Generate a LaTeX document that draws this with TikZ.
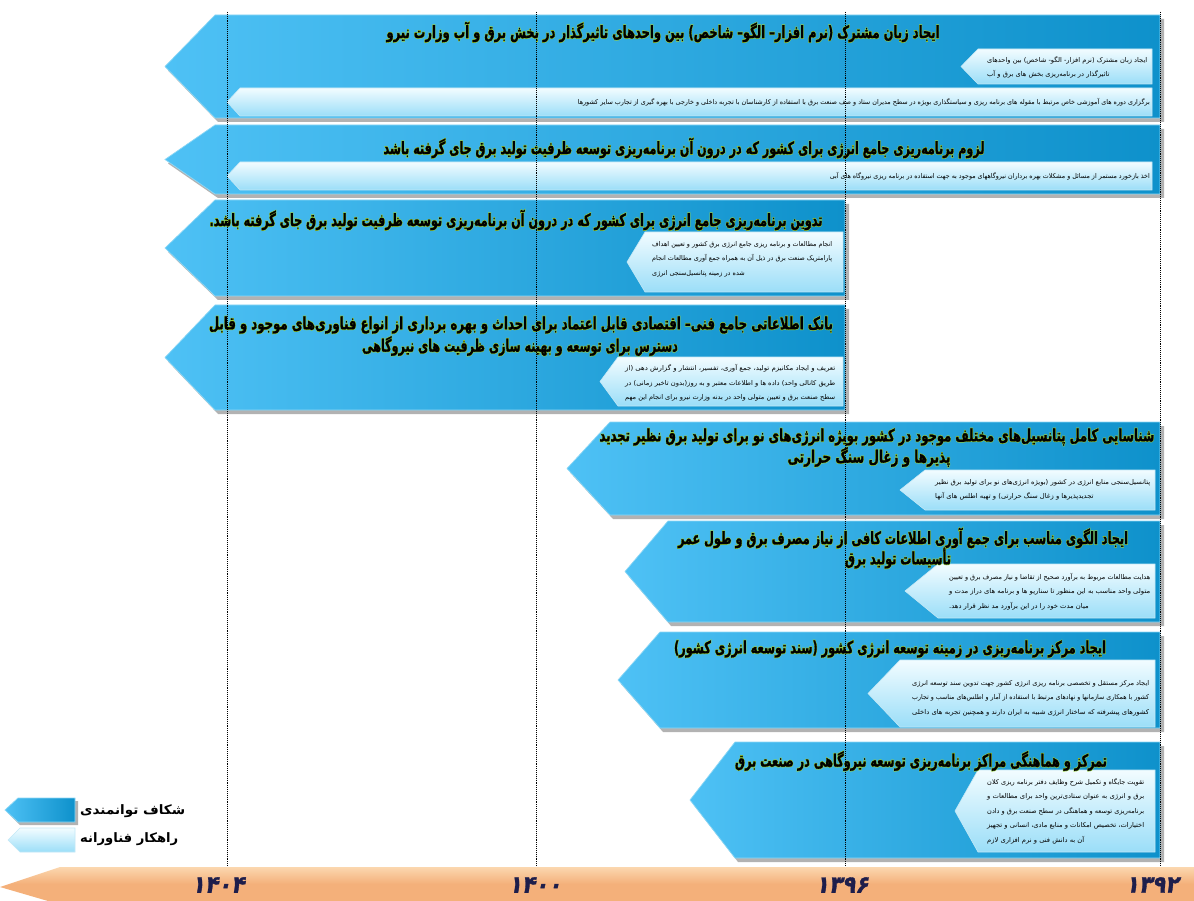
\documentclass[tikz,border=0pt]{standalone}
\usepackage{fontspec}
\usepackage{graphicx}
\newfontfamily\fa[Script=Arabic]{DejaVu Sans}
\newfontfamily\fatitle[Script=Arabic,FakeBold=1.2]{DejaVu Sans Bold}
\newfontfamily\faglow[Script=Arabic,FakeBold=9]{DejaVu Sans Bold}
\newfontfamily\fanum[Script=Arabic,FakeSlant=0.22,FakeBold=1.5]{DejaVu Sans Bold}
\TeXXeTstate=1
\definecolor{bandL}{RGB}{78,193,245}
\definecolor{bandR}{RGB}{14,145,203}
\definecolor{bandE}{RGB}{140,215,245}
\definecolor{subT}{RGB}{242,252,255}
\definecolor{subB}{RGB}{155,222,248}
\definecolor{subE}{RGB}{195,232,246}
\definecolor{axisO}{RGB}{244,176,122}
\definecolor{axisL}{RGB}{251,215,175}
\definecolor{numc}{RGB}{30,30,75}
\definecolor{glow}{RGB}{150,205,60}
\newlength\fitlen
% a right-to-left line stretched to a given width
\newcommand\fw[2]{\settowidth\fitlen{#2}\pgfmathsetmacro\fitratio{#1/\fitlen}\global\let\lastratio\fitratio\scalebox{\fitratio}[1]{#2}}
% a line using the stretch of the previous one
\newcommand\fs[1]{\scalebox{\lastratio}[1]{#1}}
% a title line with a green halo, stretched to a given width
\newcommand\ft[2]{\settowidth\fitlen{#2}\pgfmathsetmacro\fitratio{#1/\fitlen}\scalebox{\fitratio}[1]{\rlap{\faglow\color{glow}#2}#2}}
% arrow banner: tip x, corner x, right x, top y, bottom y
\newcommand\bannershape[5]{%
  \fill[bshadow] ({#2+3},{#4+4}) -- ({#3+4},{#4+4}) -- ({#3+4},{#5+4}) -- ({#2+3},{#5+4}) -- ({#1+3},{(#4+#5)/2+4}) -- cycle;
  \path[banner] (#2,#4) -- (#3,#4) -- (#3,#5) -- (#2,#5) -- (#1,{(#4+#5)/2}) -- cycle;}
\newcommand\subshape[5]{%
  \path[subbox] (#2,#4) -- (#3,#4) -- (#3,#5) -- (#2,#5) -- (#1,{(#4+#5)/2}) -- cycle;}
\tikzset{
  banner/.style={left color=bandL, right color=bandR, draw=bandE, line width=0.7pt},
  bshadow/.style={fill=black!60, opacity=0.5},
  subbox/.style={top color=subT, bottom color=subB, draw=subE, line width=0.6pt},
  grid/.style={densely dotted, line width=0.9pt, black},
  title/.style={font=\fatitle\fontsize{17}{20}\selectfont, inner sep=0pt},
  subtext/.style={font=\fa\fontsize{6.6}{14.5}\selectfont, align=left, inner sep=0pt, anchor=west},
  legendtext/.style={font=\fa\bfseries\fontsize{13}{15}\selectfont, inner sep=0pt, anchor=west},
  yearlabel/.style={font=\fanum\fontsize{24}{26}\selectfont, text=numc, inner sep=0pt}
}
\begin{document}
\begin{tikzpicture}[x=1pt,y=-1pt]
\useasboundingbox (0,0) rectangle (1194,901);
\fill[white] (0,0) rectangle (1194,901);

% row 1
\bannershape{165}{215}{1160}{15}{118}
\subshape{961}{978}{1152}{49}{84}
\subshape{227}{240}{1152}{88}{116}
% row 2
\bannershape{165}{215}{1160}{125}{194}
\subshape{227}{240}{1152}{162}{190}
% row 3
\bannershape{165}{215}{845}{200}{296}
\subshape{627}{645}{843}{232}{292}
% row 4
\bannershape{165}{215}{845}{305}{410}
\subshape{600}{618}{843}{357}{406}
% row 5
\bannershape{567}{610}{1160}{422}{515}
\subshape{900}{925}{1155}{470}{510}
% row 6
\bannershape{625}{668}{1160}{521}{622}
\subshape{905}{938}{1155}{564}{618}
% row 7
\bannershape{618}{660}{1160}{632}{728}
\subshape{868}{900}{1155}{660}{727}
% row 8
\bannershape{690}{735}{1160}{742}{858}
\subshape{955}{978}{1155}{770}{852}

% titles
\node[title] (t1) at (663,32) {\ft{553}{\beginR ایجاد زبان مشترک (نرم افزار– الگو– شاخص) بین واحدهای تاثیرگذار در بخش برق و آب وزارت نیرو\endR}};
\node[title] (t2) at (684,148) {\ft{601}{\beginR لزوم برنامه‌ریزی جامع انرژی برای کشور که در درون آن برنامه‌ریزی توسعه ظرفیت تولید برق جای گرفته باشد\endR}};
\node[title] (t3) at (516,220) {\ft{613}{\beginR تدوین برنامه‌ریزی جامع انرژی برای کشور که در درون آن برنامه‌ریزی توسعه ظرفیت تولید برق جای گرفته باشد.\endR}};
\node[title] (t4a) at (521,325) {\ft{624}{\beginR بانک اطلاعاتی جامع فنی– اقتصادی قابل اعتماد برای احداث و بهره برداری از انواع فناوری‌های موجود و قابل\endR}};
\node[title] (t4b) at (520,346) {\ft{316}{\beginR دسترس برای توسعه و بهینه سازی ظرفیت های نیروگاهی\endR}};
\node[title] (t5a) at (877,437) {\ft{555}{\beginR شناسایی کامل پتانسیل‌های مختلف موجود در کشور بویژه انرژی‌های نو برای تولید برق نظیر تجدید\endR}};
\node[title] (t5b) at (869,457) {\ft{163}{\beginR پذیرها و زغال سنگ حرارتی\endR}};
\node[title] (t6a) at (903,538) {\ft{450}{\beginR ایجاد الگوی مناسب برای جمع آوری اطلاعات کافی از نیاز مصرف برق و طول عمر\endR}};
\node[title] (t6b) at (898,558) {\ft{106}{\beginR تأسیسات تولید برق\endR}};
\node[title] (t7) at (890,649) {\ft{432}{\beginR ایجاد مرکز برنامه‌ریزی در زمینه توسعه انرژی کشور (سند توسعه انرژی کشور)\endR}};
\node[title] (t8) at (921,761) {\ft{372}{\beginR تمرکز و هماهنگی مراکز برنامه‌ریزی توسعه نیروگاهی در صنعت برق\endR}};

% sub-box texts
\node[subtext] (s1a) at (987,67.5) {\fw{160}{\beginR ایجاد زبان مشترک (نرم افزار- الگو- شاخص) بین واحدهای\endR}\\\fs{\beginR تاثیرگذار در برنامه‌ریزی بخش های برق و آب\endR}};
\node[subtext,anchor=east] (s1b) at (1150,102) {\fw{572}{\beginR برگزاری دوره های آموزشی خاص مرتبط با مقوله های برنامه ریزی و سیاستگذاری بویژه در سطح مدیران ستاد و صف صنعت برق با استفاده از کارشناسان با تجربه داخلی و خارجی با بهره گیری از تجارب سایر کشورها\endR}};
\node[subtext,anchor=east] (s2) at (1150,176) {\fw{320}{\beginR اخذ بازخورد مستمر از مسائل و مشکلات بهره برداران نیروگاههای موجود به جهت استفاده در برنامه ریزی نیروگاه های آبی\endR}};
\node[subtext] (s3) at (652,259) {\fw{180}{\beginR انجام مطالعات و برنامه ریزی جامع انرژی برق کشور و تعیین اهداف\endR}\\\fw{180}{\beginR پارامتریک صنعت برق در ذیل آن به همراه جمع آوری مطالعات انجام\endR}\\\fs{\beginR شده در زمینه پتانسیل‌سنجی انرژی\endR}};
\node[subtext] (s4) at (625,383) {\fw{210}{\beginR تعریف و ایجاد مکانیزم تولید، جمع آوری، تفسیر، انتشار و گزارش دهی (از\endR}\\\fw{210}{\beginR طریق کانالی واحد) داده ها و اطلاعات معتبر و به روز(بدون تاخیر زمانی) در\endR}\\\fw{210}{\beginR سطح صنعت برق و تعیین متولی واحد در بدنه وزارت نیرو برای انجام این مهم\endR}};
\node[subtext] (s5) at (935,490) {\fw{215}{\beginR پتانسیل‌سنجی منابع انرژی در کشور (بویژه انرژی‌های نو برای تولید برق نظیر\endR}\\\fs{\beginR تجدیدپذیرها و زغال سنگ حرارتی) و تهیه اطلس های آنها\endR}};
\node[subtext] (s6) at (949,591.5) {\fw{201}{\beginR هدایت مطالعات مربوط به برآورد صحیح از تقاضا و نیاز مصرف برق و تعیین\endR}\\\fw{201}{\beginR متولی واحد مناسب به این منظور تا سناریو ها و برنامه های دراز مدت و\endR}\\\fs{\beginR میان مدت خود را در این برآورد مد نظر قرار دهد.\endR}};
\node[subtext] (s7) at (912,698) {\fw{237}{\beginR ایجاد مرکز مستقل و تخصصی برنامه ریزی انرژی کشور جهت تدوین سند توسعه انرژی\endR}\\\fw{237}{\beginR کشور با همکاری سازمانها و نهادهای مرتبط با استفاده از آمار و اطلس‌های مناسب و تجارب\endR}\\\fw{237}{\beginR کشورهای پیشرفته که ساختار انرژی شبیه به ایران دارند و همچنین تجربه های داخلی\endR}};
\node[subtext] (s8) at (987,811) {\fw{157}{\beginR تقویت جایگاه و تکمیل شرح وظایف دفتر برنامه ریزی کلان\endR}\\\fw{157}{\beginR برق و انرژی به عنوان ستادی‌ترین واحد برای مطالعات و\endR}\\\fw{157}{\beginR برنامه‌ریزی توسعه و هماهنگی در سطح صنعت برق و دادن\endR}\\\fw{157}{\beginR اختیارات، تخصیص امکانات و منابع مادی، انسانی و تجهیز\endR}\\\fs{\beginR آن به دانش فنی و نرم افزاری لازم\endR}};

% legend
\fill[bshadow] (20,801) -- (78,801) -- (78,825) -- (20,825) -- (8,813) -- cycle;
\path[banner] (18,798) -- (75,798) -- (75,822) -- (18,822) -- (5,810) -- cycle;
\path[subbox] (20,828) -- (75,828) -- (75,852) -- (20,852) -- (8,840) -- cycle;
\node[legendtext] (lg1) at (80,811) {\fw{105}{\beginR شکاف توانمندی\endR}};
\node[legendtext] (lg2) at (80,839) {\fw{98}{\beginR راهکار فناورانه\endR}};

% time axis
\path[top color=axisL, bottom color=axisO, middle color=axisO] (0,887) -- (60,867) -- (1194,867) -- (1194,901) -- (48,901) -- cycle;
\node[yearlabel] (y1404) at (218,885) {\scalebox{0.9}[1]{۱۴۰۴}};
\node[yearlabel] (y1400) at (535,885) {\scalebox{0.9}[1]{۱۴۰۰}};
\node[yearlabel] (y1396) at (842,885) {\scalebox{0.9}[1]{۱۳۹۶}};
\node[yearlabel] (y1392) at (1152,885) {\scalebox{0.9}[1]{۱۳۹۲}};

% year grid lines
\foreach \gx in {227,536,845,1160} \draw[grid] (\gx,12) -- (\gx,866);
\end{tikzpicture}
\end{document}
